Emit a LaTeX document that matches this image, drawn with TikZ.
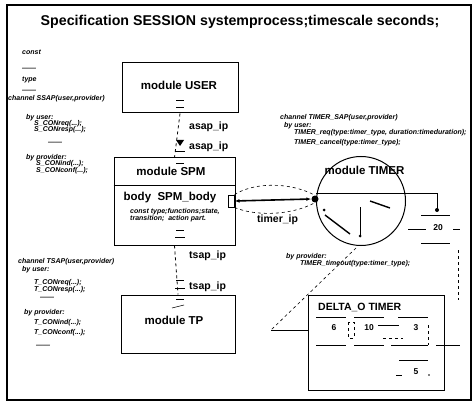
\documentclass[tikz,border=0pt]{standalone}
\usepackage{fontspec}
\setmainfont{Liberation Sans}
\usetikzlibrary{arrows.meta}
\begin{document}
\begin{tikzpicture}[x=1pt,y=-1pt,
  box/.style={draw, line width=1pt, inner sep=0, rectangle},
  lab/.style={font=\bfseries\fontsize{11.5}{13}\selectfont, inner sep=0},
  ip/.style={font=\bfseries\fontsize{10.5}{12}\selectfont, inner sep=0, anchor=west},
  sm/.style={font=\bfseries\itshape\fontsize{7}{8}\selectfont, inner sep=0, anchor=west},
  num/.style={font=\bfseries\fontsize{8.5}{10}\selectfont, inner sep=0},
  thin/.style={line width=0.6pt},
  dsh/.style={line width=0.6pt, dash pattern=on 3pt off 3pt}
]
\useasboundingbox (0,0) rectangle (476,406);
% outer frame
\node[draw, line width=1.4pt, minimum width=464, minimum height=395, inner sep=0] (frame) at (239,202.5) {};
% title
\node[font=\bfseries\fontsize{14.2}{16}\selectfont, inner sep=0] (title) at (240,22) {Specification SESSION systemprocess;timescale seconds;};

% SSAP block
\node[sm] (t1) at (22,52) {const};
\node[sm] (t2) at (22,69) {——};
\node[sm] (t3) at (22,80) {type};
\node[sm] (t4) at (22,91) {——};
\node[sm] (t5) at (8,99) {channel SSAP(user,provider)};
\node[sm] (t6) at (26,118) {by user:};
\node[sm] (t7) at (34,124) {S\_CONreq(...);};
\node[sm] (t8) at (34,130) {S\_CONresp(...);};
\node[sm] (t9) at (48,143) {——};
\node[sm] (t10) at (26,158) {by provider:};
\node[sm] (t11) at (36,164) {S\_CONind(...);};
\node[sm] (t12) at (36,171) {S\_CONconf(...);};

% TSAP block
\node[sm] (u1) at (18,262) {channel TSAP(user,provider)};
\node[sm] (u2) at (22,270) {by user:};
\node[sm] (u3) at (34,283) {T\_CONreq(...);};
\node[sm] (u4) at (34,290) {T\_CONresp(...);};
\node[sm] (u5) at (40,298) {——};
\node[sm] (u6) at (24,313) {by provider:};
\node[sm] (u7) at (34,323) {T\_CONind(...);};
\node[sm] (u8) at (34,333) {T\_CONconf(...);};
\node[sm] (u9) at (36,346) {——};

% TIMER_SAP block
\node[sm] (v1) at (280,118) {channel TIMER\_SAP(user,provider)};
\node[sm] (v2) at (284,126) {by user:};
\node[sm] (v3) at (294,133) {TIMER\_req(type:timer\_type, duration:timeduration);};
\node[sm] (v4) at (294,143) {TIMER\_cancel(type:timer\_type);};
\node[sm] (v5) at (286,257) {by provider:};
\node[sm] (v6) at (300,264) {TIMER\_timeout(type:timer\_type);};

% USER
\node[box, minimum width=116, minimum height=50] (user) at (180,88) {};
\node[lab] (userlab) at (179,85) {module USER};
% SPM
\node[box, minimum width=121, minimum height=87] (spm) at (174.5,201.5) {};
\draw[line width=1pt] (spm.west |- 0,185) -- (spm.east |- 0,185);
\node[lab] (spmlab) at (171,171) {module SPM};
\node[lab] (spmbody) at (170,198) {body\ \ SPM\_body};
\node[sm] (spmt1) at (130,212) {const type;functions;state,};
\node[sm] (spmt2) at (130,219) {transition;\ \ action part.};
\draw[thin] (176,230) -- (184,230);
\draw[thin] (175,237) -- (185,237);
% TP
\node[box, minimum width=114, minimum height=58] (tp) at (178,324) {};
\node[lab] (tplab) at (174,320) {module TP};

% ip labels
\node[ip] (asap1) at (189,127) {asap\_ip};
\node[ip] (asap2) at (189,147) {asap\_ip};
\node[ip] (tsap1) at (189,256) {tsap\_ip};
\node[ip] (tsap2) at (189,287) {tsap\_ip};

% user-spm connection
\draw[thin] (176,100) -- (184,100);
\draw[thin] (176,107) -- (184,107);
\draw[thin] (176,163) -- (184,163);
\draw[dsh, line width=0.8pt] (user.south) -- (spm.north);
\fill (176,140) -- (184,140) -- (180,146) -- cycle;
\draw[thin] (175,151) -- (185,151);
% spm-tp connection
\draw[dsh, line width=0.8pt] (spm.south) -- (tp.north);
\draw[thin] (176,280) -- (184,280);
\draw[thin] (175,288) -- (185,288);
\draw[thin] (176,299) -- (184,299);
\draw[thin] (172,308) -- (184,305);

% TIMER
\node[draw, circle, line width=1pt, minimum size=89, inner sep=0] (timer) at (361,201) {};
\node[lab] (timerlab) at (364.5,170) {module TIMER};
\coordinate (tline) at (437,193);
\draw[line width=1pt] (timer.west |- 0,193) -- (tline) -- (437,209);
\fill (437,210) circle (2);
\draw[line width=1.4pt] (325,215) -- (350,234);
\fill (324,210) circle (1.5);
\draw[thin] (360,207) -- (360,235);
\fill (360,236) circle (1.5);
\draw[line width=1.4pt] (370,201) -- (390,208);

% ports and arrow
\node[draw, line width=1pt, minimum width=6, minimum height=12, inner sep=0] (spmport) at (231,201) {};
\node[fill, circle, minimum size=7, inner sep=0] (timerport) at (315,199) {};
\draw[{Latex[length=5pt]}-{Latex[length=5pt]}, line width=1.6pt] (spmport.east) -- (timerport.west);
\draw[dsh] (spmport.north east) .. controls (255,182) and (290,182) .. (timerport.north);
\draw[dsh] (spmport.south east) .. controls (255,216) and (290,216) .. (timerport.south);
\node[ip] (timerip) at (257,220) {timer\_ip};

% 20 box
\node[num] (twenty) at (438,228) {20};
\draw[thin] (421,215) -- (450,215);
\draw[thin] (421,243) -- (450,243);
\draw[thin] (408,229) -- (426,229);
\draw[thin] (453,229) -- (460,229);
\draw[dsh] (458,250) -- (458,300);

% DELTA box
\node[box, minimum width=136, minimum height=95] (delta) at (376,342.5) {};
\node[lab, anchor=west, font=\bfseries\fontsize{10.5}{12}\selectfont] (deltalab) at (318,307) {DELTA\_O TIMER};
\draw[thin] (316,317) -- (346,317) (354,317) -- (384,317) (398,317) -- (428,317);
\draw[thin] (316,345) -- (346,345) (354,345) -- (384,345) (391,345) -- (428,345) (436,345) -- (460,345);
\node[num] (n6) at (334,328) {6};
\node[num] (n10) at (369,328) {10};
\node[num] (n3) at (416,328) {3};
\node[num] (n5) at (416,372) {5};
\draw[dsh] (348,322) rectangle (354,338);
\draw[thin] (378,325) -- (399,325);
\draw[dsh] (383,338) -- (403,338);
\draw[dsh] (428,325) -- (428,345);
\draw[thin] (399,360) -- (428,360);
\draw[thin] (396,375) -- (402,375);
\fill (429,375) circle (0.8);

% callout from timer to delta
\coordinate (callout) at (271,330);
\draw[dsh] (timer.south) ++(-5,2) -- (callout);
\draw[line width=1pt] (callout) -- (delta.west |- callout);
\end{tikzpicture}
\end{document}
